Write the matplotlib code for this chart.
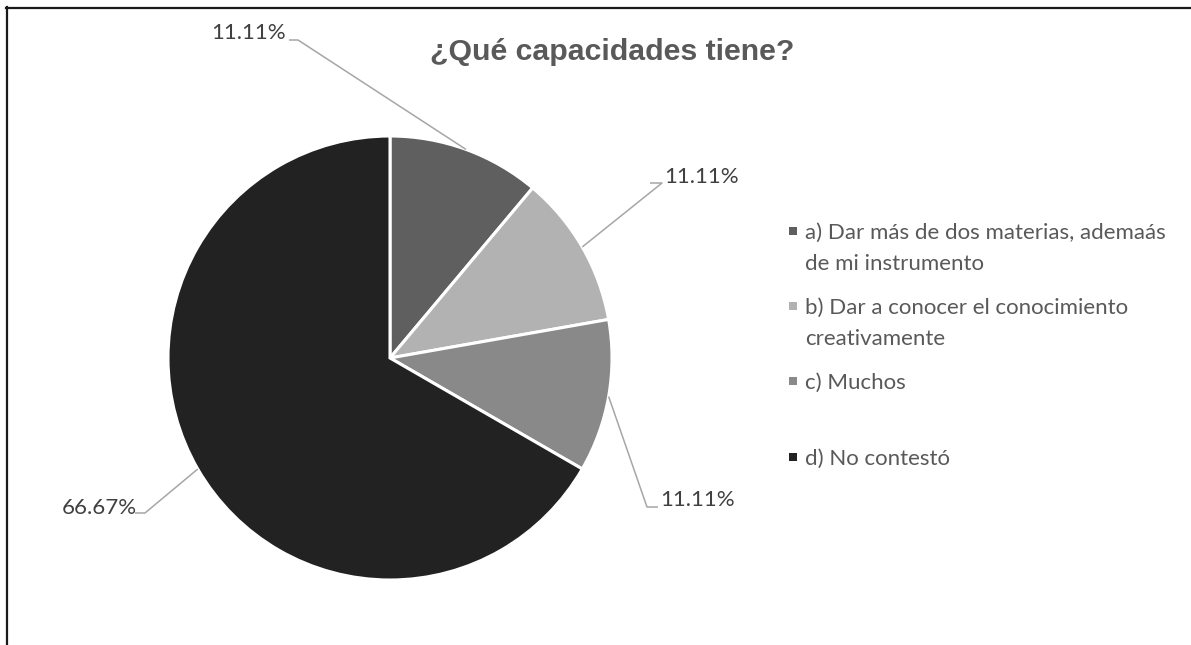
import matplotlib
matplotlib.use("Agg")
import matplotlib.pyplot as plt
import numpy as np
from matplotlib.patches import Rectangle
from matplotlib.lines import Line2D

categories = ["a) Dar más de dos materias, ademaás\nde mi instrumento",
              "b) Dar a conocer el conocimiento\ncreativamente",
              "c) Muchos",
              "d) No contestó"]
values = [11.11, 11.11, 11.11, 66.67]
labels = ["11.11%", "11.11%", "11.11%", "66.67%"]
colors = ["#5f5f5f", "#b2b2b2", "#898989", "#222222"]
title = "¿Qué capacidades tiene?"

W, H = 1191, 645
fig = plt.figure(figsize=(W / 100, H / 100), dpi=100)
fig.patch.set_facecolor("white")

cx, cy, R = 390, 358, 222
ax = fig.add_axes([(cx - R) / W, (H - cy - R) / H, 2 * R / W, 2 * R / H])
wedges, _ = ax.pie(values, colors=colors, startangle=90, counterclock=False,
                   radius=1.0, wedgeprops=dict(edgecolor="white", linewidth=2.2))
ax.set_xlim(-1, 1)
ax.set_ylim(-1, 1)
ax.set_aspect("equal")
ax.axis("off")

def px2d(px, py):
    return (px - cx) / R, (cy - py) / R

# label text positions (pixels) and elbow points
lab_pos = [(249, 33), (702, 177), (698, 500), (99, 508)]
elbows = [((298, 40), (289, 40)), ((662, 183), (650, 183)),
          ((647, 507), (658, 507)), ((145, 513), (135, 513))]
lbl_font = ["Lato", "DejaVu Sans"]
for w, lab, (tx, ty), (e1, e2) in zip(wedges, labels, lab_pos, elbows):
    ang = np.deg2rad((w.theta1 + w.theta2) / 2)
    ax_, ay_ = np.cos(ang), np.sin(ang)
    p1 = px2d(*e1)
    p2 = px2d(*e2)
    ax.plot([ax_, p1[0], p2[0]], [ay_, p1[1], p2[1]], color="#a6a6a6", lw=1.1,
            clip_on=False, solid_capstyle="butt")
    x, y = px2d(tx, ty)
    ax.text(x, y, lab, ha="center", va="center", fontsize=16, color="#404040",
            family=lbl_font, clip_on=False)

fig.text(612 / W, 1 - 52 / H, title, ha="center", va="center", fontsize=21.8,
         fontweight="bold", color="#595959", family=["Liberation Sans", "DejaVu Sans"])

# legend
leg_y = [231, 306, 381, 457]
for col, cat, y in zip(colors, categories, leg_y):
    s = 8
    fig.patches.append(Rectangle(((793 - s / 2) / W, 1 - (y + s / 2) / H), s / W, s / H,
                                 transform=fig.transFigure, facecolor=col, edgecolor="none"))
    for i, line in enumerate(cat.split("\n")):
        fig.text(805 / W, 1 - (y + i * 31) / H, line, ha="left", va="center_baseline",
                 fontsize=16, color="#595959", family=lbl_font)

# border (left and top)
fig.add_artist(Line2D([6.5 / W, 6.5 / W], [0, 1 - 7 / H], transform=fig.transFigure,
                      color="#1a1a1a", lw=1.6))
fig.add_artist(Line2D([6 / W, 1], [1 - 7.5 / H, 1 - 7.5 / H], transform=fig.transFigure,
                      color="#1a1a1a", lw=1.6))

fig.savefig("out.png", dpi=100, facecolor="white")
